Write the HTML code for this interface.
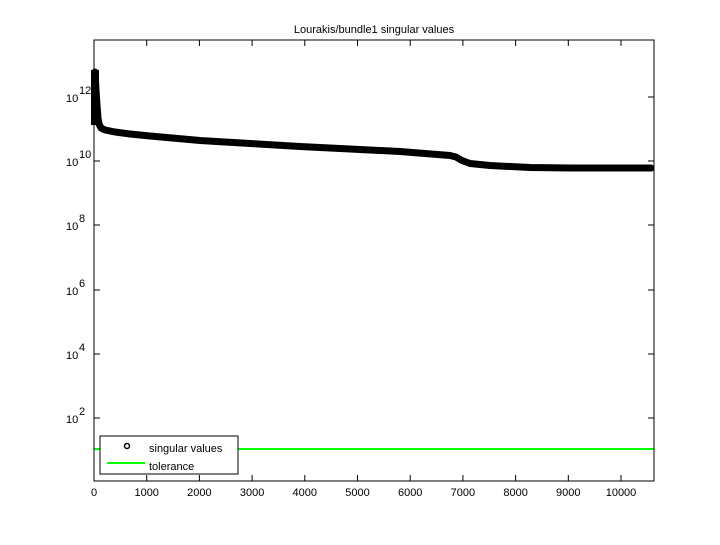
<!DOCTYPE html>
<html><head><style>
body{margin:0;background:#fff;}
svg text{font-family:"Liberation Sans",sans-serif;font-size:11px;fill:#000}
</style></head><body>
<svg width="720" height="540" viewBox="0 0 720 540">
<rect width="720" height="540" fill="#fff"/>
<text x="374" y="33" text-anchor="middle">Lourakis/bundle1 singular values</text>
<line x1="94" y1="449" x2="654" y2="449" stroke="#00ff00" stroke-width="2"/>
<polyline fill="none" stroke="#000" stroke-width="7" stroke-linejoin="round" stroke-linecap="round"
 points="95,72 96,90 97,105 98,118 99,124 101,128 105,130 115,132 130,134 150,136 200,140.5 250,143.5 300,146.5 350,149 400,151.5 450,155.5 456,157 462,160.5 470,163.5 490,165.5 530,167.5 570,168 651,168"/>
<line x1="95" y1="70" x2="95" y2="125" stroke="#000" stroke-width="8"/>
<rect x="94" y="40" width="560" height="441" fill="none" stroke="#000" stroke-width="1"/>
<g stroke="#000" stroke-width="1">
<line x1="94" y1="97" x2="100" y2="97"/><line x1="654" y1="97" x2="648" y2="97"/>
<line x1="94" y1="161" x2="100" y2="161"/><line x1="654" y1="161" x2="648" y2="161"/>
<line x1="94" y1="225" x2="100" y2="225"/><line x1="654" y1="225" x2="648" y2="225"/>
<line x1="94" y1="290" x2="100" y2="290"/><line x1="654" y1="290" x2="648" y2="290"/>
<line x1="94" y1="354" x2="100" y2="354"/><line x1="654" y1="354" x2="648" y2="354"/>
<line x1="94" y1="418" x2="100" y2="418"/><line x1="654" y1="418" x2="648" y2="418"/>
</g>
<g stroke="#000" stroke-width="1">
<line x1="146.7" y1="481" x2="146.7" y2="475"/><line x1="146.7" y1="40" x2="146.7" y2="46"/>
<line x1="199.4" y1="481" x2="199.4" y2="475"/><line x1="199.4" y1="40" x2="199.4" y2="46"/>
<line x1="252.1" y1="481" x2="252.1" y2="475"/><line x1="252.1" y1="40" x2="252.1" y2="46"/>
<line x1="304.8" y1="481" x2="304.8" y2="475"/><line x1="304.8" y1="40" x2="304.8" y2="46"/>
<line x1="357.5" y1="481" x2="357.5" y2="475"/><line x1="357.5" y1="40" x2="357.5" y2="46"/>
<line x1="410.2" y1="481" x2="410.2" y2="475"/><line x1="410.2" y1="40" x2="410.2" y2="46"/>
<line x1="462.9" y1="481" x2="462.9" y2="475"/><line x1="462.9" y1="40" x2="462.9" y2="46"/>
<line x1="515.6" y1="481" x2="515.6" y2="475"/><line x1="515.6" y1="40" x2="515.6" y2="46"/>
<line x1="568.3" y1="481" x2="568.3" y2="475"/><line x1="568.3" y1="40" x2="568.3" y2="46"/>
<line x1="621" y1="481" x2="621" y2="475"/><line x1="621" y1="40" x2="621" y2="46"/>
</g>
<g text-anchor="middle">
<text x="94" y="496">0</text><text x="146.7" y="496">1000</text><text x="199.4" y="496">2000</text>
<text x="252.1" y="496">3000</text><text x="304.8" y="496">4000</text><text x="357.5" y="496">5000</text>
<text x="410.2" y="496">6000</text><text x="462.9" y="496">7000</text><text x="515.6" y="496">8000</text>
<text x="568.3" y="496">9000</text><text x="621" y="496">10000</text>
</g>
<g>
<text x="66" y="102">10</text><text x="79" y="94" font-size="8">12</text>
<text x="66" y="166">10</text><text x="79" y="158" font-size="8">10</text>
<text x="66" y="230">10</text><text x="79" y="222" font-size="8">8</text>
<text x="66" y="295">10</text><text x="79" y="287" font-size="8">6</text>
<text x="66" y="359">10</text><text x="79" y="351" font-size="8">4</text>
<text x="66" y="423">10</text><text x="79" y="415" font-size="8">2</text>
</g>
<rect x="100" y="436" width="138" height="38" fill="#fff" stroke="#000" stroke-width="1"/>
<circle cx="127" cy="446" r="2.5" fill="none" stroke="#000" stroke-width="1.5"/>
<text x="149" y="452">singular values</text>
<line x1="107" y1="463" x2="145" y2="463" stroke="#00ff00" stroke-width="2"/>
<text x="149" y="470">tolerance</text>
</svg>
</body></html>
